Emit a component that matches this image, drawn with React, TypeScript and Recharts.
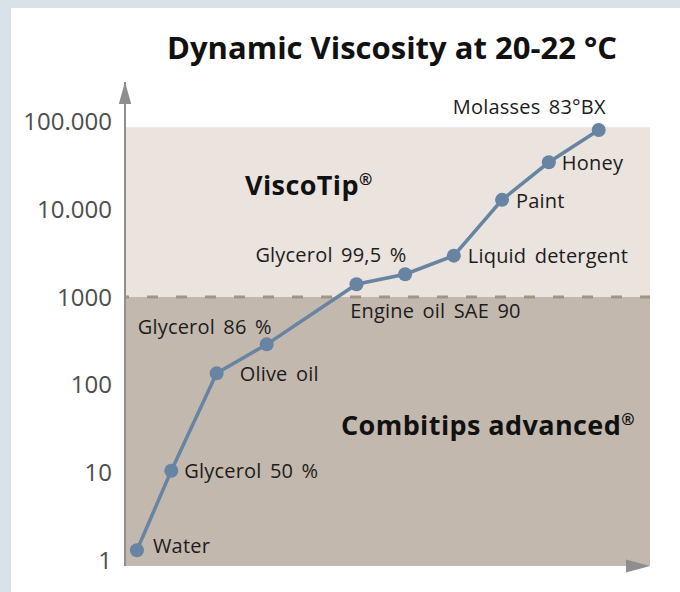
import React from 'react';
import { LineChart, Line, XAxis, YAxis, ReferenceArea, ReferenceLine, ReferenceDot } from 'recharts';

// ---- data ----
const categories = [
  'Water',
  'Glycerol 50 %',
  'Olive oil',
  'Glycerol 86 %',
  'Glycerol 99,5 %',
  'Engine oil SAE 90',
  'Liquid detergent',
  'Paint',
  'Honey',
  'Molasses 83°BX',
];
const positions = [0.25, 0.97, 1.92, 2.97, 4.85, 5.87, 6.89, 7.9, 8.88, 9.925];
const viscosity = [1.3, 10.5, 135, 289, 1400, 1820, 2960, 12800, 34300, 80100];

const yTicks = [1, 10, 100, 1000, 10000, 100000];
const yTickLabels = ['1', '10', '100', '1000', '10.000', '100.000'];

const combitipsMax = 1000;
const viscoTipMax = 86000;
const yDomain: [number, number] = [0.861, 282000];
const xDomain: [number, number] = [0, 11];

const title = 'Dynamic Viscosity at 20-22 °C';
const zoneUpper = 'ViscoTip';
const zoneLower = 'Combitips advanced';

// ---- styling (not data) ----
const FONT = "'Open Sans', 'Noto Sans', sans-serif";
const LINE = '#6784a3';
const AXIS = '#8e8e8e';
const labelLayout: { dx: number; dy: number; anchor: 'start' | 'end' }[] = [
  { dx: 16, dy: -4, anchor: 'start' },
  { dx: 13, dy: 0, anchor: 'start' },
  { dx: 23, dy: 0, anchor: 'start' },
  { dx: 5, dy: -18, anchor: 'end' },
  { dx: 50, dy: -29, anchor: 'end' },
  { dx: -55, dy: 37, anchor: 'start' },
  { dx: 14, dy: 0, anchor: 'start' },
  { dx: 14, dy: 1, anchor: 'start' },
  { dx: 13, dy: 1, anchor: 'start' },
  { dx: 7, dy: -23, anchor: 'end' },
];

const data = categories.map((name, i) => ({ name, x: positions[i], v: viscosity[i] }));

const tickFmt = (v: number) => {
  const i = yTicks.indexOf(v);
  return i >= 0 ? yTickLabels[i] : String(v);
};

const renderDot = (props: any) => {
  const { cx, cy, index } = props;
  const l = labelLayout[index];
  return (
    <g key={`pt-${index}`}>
      <circle cx={cx} cy={cy} r={7} fill={LINE} stroke="none" />
      <text
        x={cx + l.dx}
        y={cy + l.dy}
        dy="0.36em"
        textAnchor={l.anchor}
        fontFamily={FONT}
        fontSize={20}
        letterSpacing={0.2}
        wordSpacing={3}
        fill="#1c1c1c"
      >
        {categories[index]}
      </text>
    </g>
  );
};

const zoneLabel = (text: string, dx: number, dy: number) => (props: any) => {
  const vb = props.viewBox || {};
  return (
    <text
      x={vb.x + dx}
      y={vb.y + dy}
      dy="0.36em"
      fontFamily={FONT}
      fontWeight={700}
      fontSize={27}
      letterSpacing={0.4}
      fill="#111"
    >
      {text}
      <tspan fontSize={16} dy={-10}>®</tspan>
    </text>
  );
};

export default function App() {
  return (
    <div style={{ position: 'absolute', left: 0, top: 0, width: 680, height: 592, background: '#dae2e9', overflow: 'hidden' }}>
      <div style={{ position: 'absolute', left: 11, top: 8, right: 0, bottom: 0, background: '#ffffff' }} />
      <div
        style={{
          position: 'absolute',
          left: 92,
          top: 26,
          width: 600,
          textAlign: 'center',
          fontFamily: FONT,
          fontWeight: 700,
          fontSize: 31,
          lineHeight: '42px',
          color: '#111',
          whiteSpace: 'nowrap',
        }}
      >
        {title}
      </div>
      <div style={{ position: 'absolute', left: 0, top: 0 }}>
        <LineChart width={680} height={592} data={data} margin={{ top: 82, right: 30, bottom: 26, left: 10 }}>
          <ReferenceArea
            y1={combitipsMax}
            y2={viscoTipMax}
            fill="#ebe3de"
            fillOpacity={1}
            stroke="none"
            ifOverflow="visible"
            label={{ content: zoneLabel(zoneUpper, 120, 58) }}
          />
          <ReferenceArea
            y1={yDomain[0]}
            y2={combitipsMax}
            fill="#c3b8ad"
            fillOpacity={1}
            stroke="none"
            ifOverflow="visible"
            label={{ content: zoneLabel(zoneLower, 216, 128) }}
          />
          <ReferenceLine
            y={combitipsMax}
            stroke="#a39584"
            strokeWidth={3}
            strokeDasharray="11 18"
            strokeDashoffset={7}
            ifOverflow="visible"
          />
          <XAxis
            type="number"
            dataKey="x"
            domain={xDomain}
            allowDataOverflow
            tick={false}
            tickLine={false}
            height={0}
            axisLine={{ stroke: AXIS, strokeWidth: 2 }}
          />
          <YAxis
            type="number"
            scale="log"
            domain={yDomain}
            allowDataOverflow
            ticks={yTicks}
            tickFormatter={tickFmt}
            interval={0}
            width={115}
            tickLine={false}
            tickSize={0}
            tickMargin={13}
            axisLine={{ stroke: AXIS, strokeWidth: 2 }}
            tick={{ fill: '#4d4d4d', fontSize: 24, fontFamily: FONT }}
          />
          <ReferenceDot
            x={xDomain[0]}
            y={yDomain[1]}
            ifOverflow="visible"
            shape={(p: any) => (
              <polygon points={`${p.cx - 6.2},${p.cy + 22} ${p.cx + 6.2},${p.cy + 22} ${p.cx},${p.cy}`} fill={AXIS} />
            )}
          />
          <ReferenceDot
            x={xDomain[1]}
            y={yDomain[0]}
            ifOverflow="visible"
            shape={(p: any) => (
              <polygon points={`${p.cx},${p.cy} ${p.cx - 24},${p.cy - 6.5} ${p.cx - 24},${p.cy + 6.5}`} fill={AXIS} />
            )}
          />
          <Line
            type="linear"
            dataKey="v"
            stroke={LINE}
            strokeWidth={3.5}
            dot={renderDot}
            activeDot={false}
            isAnimationActive={false}
          />
        </LineChart>
      </div>
    </div>
  );
}
